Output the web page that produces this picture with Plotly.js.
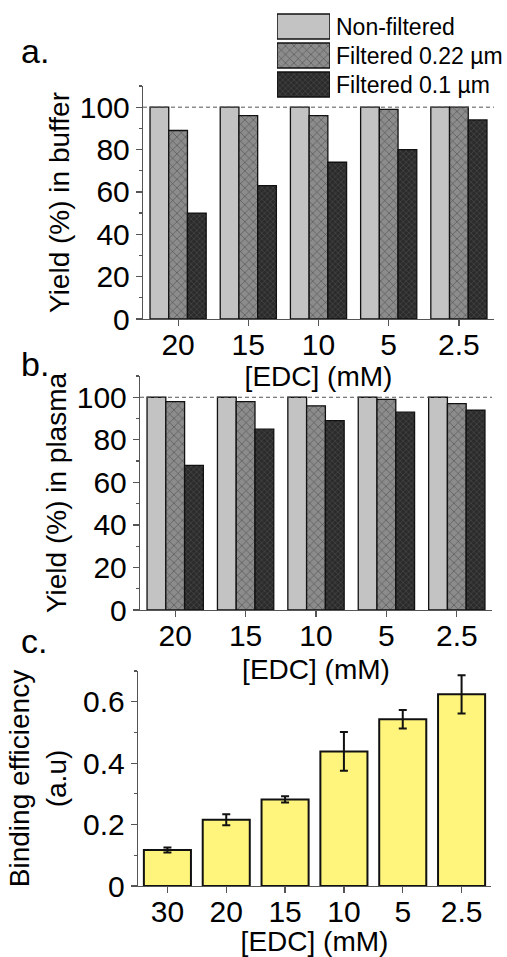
<!DOCTYPE html>
<html>
<head>
<meta charset="utf-8">
<script src="https://cdn.plot.ly/plotly-3.0.1.min.js"></script>
<style>
html,body{margin:0;padding:0;background:#fff;}
#chart{width:507px;height:957px;}
</style>
</head>
<body>
<div id="chart"></div>
<script>
// ---------- data ----------
const seriesNames = ['Non-filtered', 'Filtered 0.22 \u00b5m', 'Filtered 0.1 \u00b5m'];
const edcAB = ['20', '15', '10', '5', '2.5'];
const bufferNonFiltered = [100, 100, 100, 100, 100];
const bufferFiltered022 = [89, 96, 96, 99, 100];
const bufferFiltered01 = [50, 63, 74, 80, 94];
const plasmaNonFiltered = [100, 100, 100, 100, 100];
const plasmaFiltered022 = [98, 98, 96, 99, 97];
const plasmaFiltered01 = [68, 85, 89, 93, 94];
const edcC = ['30', '20', '15', '10', '5', '2.5'];
const bindingEfficiency = [0.117, 0.216, 0.282, 0.438, 0.543, 0.624];
const bindingError = [0.008, 0.018, 0.010, 0.063, 0.030, 0.062];
const referenceLevel = 100;

// ---------- styles ----------
const W = 507, H = 957;
const px = v => v / W;
const py = v => 1 - v / H;
const FONT = 'Liberation Sans, Arial, sans-serif';
const seriesStyles = [
  {color: '#c3c3c3', pattern: {shape: ''}},
  {color: '#8c8c8c', pattern: {shape: 'x', bgcolor: '#8c8c8c', fgcolor: '#4a4a4a', size: 6, solidity: 0.18, fillmode: 'replace'}},
  {color: '#2b2b2b', pattern: {shape: 'x', bgcolor: '#2b2b2b', fgcolor: '#5a5a5a', size: 4, solidity: 0.2, fillmode: 'replace'}}
];

function groupTraces(values, xa, ya) {
  return values.map((vals, i) => ({
    type: 'bar', x: edcAB, y: vals, name: seriesNames[i], xaxis: xa, yaxis: ya,
    showlegend: false, hoverinfo: 'none',
    marker: {color: seriesStyles[i].color, pattern: seriesStyles[i].pattern, line: {color: '#111', width: 1.3}}
  }));
}

const legendTraces = seriesNames.map((name, i) => ({
  type: 'bar', orientation: 'h', y: [name], x: [1], width: 0.86, offsetgroup: 'legend',
  xaxis: 'x4', yaxis: 'y4', showlegend: false, hoverinfo: 'none',
  marker: {color: seriesStyles[i].color, pattern: seriesStyles[i].pattern, line: {color: '#111', width: 1.5}}
}));

const traces = [
  ...groupTraces([bufferNonFiltered, bufferFiltered022, bufferFiltered01], 'x', 'y'),
  ...groupTraces([plasmaNonFiltered, plasmaFiltered022, plasmaFiltered01], 'x2', 'y2'),
  {
    type: 'bar', x: edcC, y: bindingEfficiency, xaxis: 'x3', yaxis: 'y3', showlegend: false, hoverinfo: 'none',
    marker: {color: '#FFF57C', line: {color: '#111', width: 2}},
    error_y: {type: 'data', array: bindingError, visible: true, color: '#111', thickness: 2, width: 4}
  },
  ...legendTraces
];

const axisLine = {showline: true, linecolor: '#555', linewidth: 1.2, ticks: 'outside', tickcolor: '#555',
  tickwidth: 1.2, ticklen: 6, showgrid: false, zeroline: false, tickfont: {size: 30, color: '#000', family: FONT}};

function xAx(domain, anchor, n, standoff) {
  return Object.assign({}, axisLine, {
    domain: domain, anchor: anchor, type: 'category', range: [-0.5, n - 0.5], fixedrange: true,
    ticklabelstandoff: -7,
    title: {text: '[EDC] (mM)', font: {size: 28, color: '#000', family: FONT}, standoff: standoff}
  });
}
function yAx(domain, anchor, range, dtick, title, standoff) {
  return Object.assign({}, axisLine, {
    domain: domain, anchor: anchor, range: range, dtick: dtick, fixedrange: true,
    minor: {ticks: 'outside', ticklen: 3, dtick: dtick / 2, tickcolor: '#555', tickwidth: 1.2},
    title: {text: title, font: {size: 28, color: '#000', family: FONT}, standoff: standoff}
  });
}

const layout = {
  width: W, height: H,
  margin: {l: 0, r: 0, t: 0, b: 0},
  paper_bgcolor: '#fff', plot_bgcolor: 'rgba(0,0,0,0)',
  font: {family: FONT, color: '#000'},
  barmode: 'group', bargap: 0.2, bargroupgap: 0,
  showlegend: false,
  xaxis: xAx([px(143), px(494)], 'y', 5, 5),
  yaxis: yAx([py(319), py(86)], 'x', [0, 110], 20, 'Yield (%) in buffer', 2),
  xaxis2: xAx([px(140), px(492)], 'y2', 5, 8),
  yaxis2: yAx([py(610), py(376)], 'x2', [0, 110], 20, 'Yield (%) in plasma', 2),
  xaxis3: xAx([px(138), px(491)], 'y3', 6, 8),
  yaxis3: yAx([py(886), py(671)], 'x3', [0, 0.7], 0.2, 'Binding efficiency<br>(a.u)', 8),
  xaxis4: {domain: [px(277), px(330)], anchor: 'y4', range: [0, 1], visible: false, fixedrange: true},
  yaxis4: {domain: [py(99), py(12)], anchor: 'x4', type: 'category', side: 'right',
    categoryorder: 'array', categoryarray: seriesNames.slice().reverse(), range: [-0.5, 2.5],
    showline: false, ticks: '', showgrid: false, zeroline: false, ticklabelstandoff: 5,
    tickfont: {size: 23, color: '#000', family: FONT}, fixedrange: true},
  shapes: [
    {type: 'line', xref: 'x domain', yref: 'y', x0: 0, x1: 1, y0: referenceLevel, y1: referenceLevel,
      line: {color: '#555', width: 1, dash: '4px,3px'}},
    {type: 'line', xref: 'x2 domain', yref: 'y2', x0: 0, x1: 1, y0: referenceLevel, y1: referenceLevel,
      line: {color: '#555', width: 1, dash: '4px,3px'}}
  ],
  annotations: [
    {text: 'a.', xref: 'paper', yref: 'paper', x: px(19), y: py(51), xanchor: 'left', yanchor: 'middle', showarrow: false, font: {size: 34, family: FONT}},
    {text: 'b.', xref: 'paper', yref: 'paper', x: px(19), y: py(364), xanchor: 'left', yanchor: 'middle', showarrow: false, font: {size: 34, family: FONT}},
    {text: 'c.', xref: 'paper', yref: 'paper', x: px(19), y: py(641), xanchor: 'left', yanchor: 'middle', showarrow: false, font: {size: 34, family: FONT}}
  ]
};

Plotly.newPlot('chart', traces, layout, {displayModeBar: false, staticPlot: true});
</script>
</body>
</html>
